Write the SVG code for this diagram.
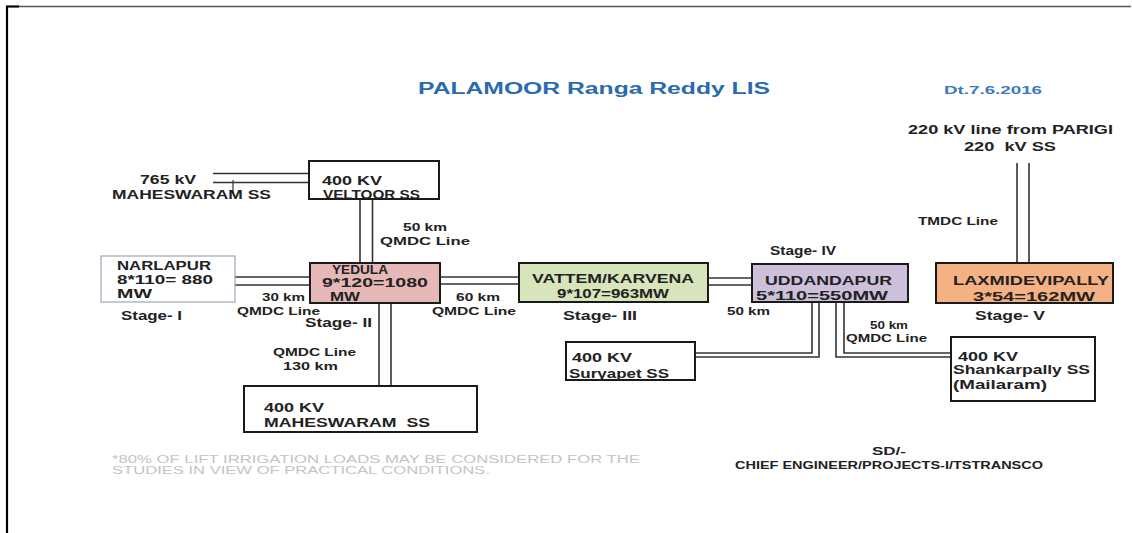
<svg xmlns="http://www.w3.org/2000/svg" width="1132" height="533" viewBox="0 0 1132 533" xml:space="preserve">
<style>
text{font-family:"Liberation Sans",Arial,sans-serif;font-weight:bold;fill:#222;white-space:pre}
.n{font-size:12px}
.s{font-size:10px}
.t{font-size:16px;fill:#2a6aae}
.d{font-size:11px;fill:#3a7bbf}
.f{font-size:10px;fill:#c4c4c4;font-weight:normal}
.box{stroke:#1a1a1a;stroke-width:2}
.ln{stroke:#333;stroke-width:1.6;fill:none}
</style>
<rect width="1132" height="533" fill="#fff"/>
<g id="frame">
<line x1="7" y1="6.5" x2="1131" y2="6.5" stroke="#555" stroke-width="1.5"/>
<line x1="7" y1="6" x2="7" y2="533" stroke="#000" stroke-width="2.2"/>
<line x1="6" y1="6.5" x2="19" y2="6.5" stroke="#000" stroke-width="2"/>
</g>
<g id="title">
<text class="t" x="418" y="94" textLength="352" lengthAdjust="spacingAndGlyphs">PALAMOOR Ranga Reddy LIS</text>
<text class="d" x="944" y="94" textLength="98" lengthAdjust="spacingAndGlyphs">Dt.7.6.2016</text>
</g>
<g id="connectors">
<polyline class="ln" points="213,173.5 309,173.5"/>
<polyline class="ln" points="213,182.5 309,182.5"/>
<polyline class="ln" points="360,199 360,263"/>
<polyline class="ln" points="372.5,199 372.5,263"/>
<polyline class="ln" points="235,277 310,277"/>
<polyline class="ln" points="235,285 310,285"/>
<polyline class="ln" points="440,277 519,277"/>
<polyline class="ln" points="440,284 519,284" stroke="#888"/>
<polyline class="ln" points="379,303 379,386"/>
<polyline class="ln" points="391,303 391,386"/>
<polyline class="ln" points="708,278 752,278"/>
<polyline class="ln" points="708,285 752,285" stroke="#888"/>
<polyline class="ln" points="812,302 812,353 695,353"/>
<polyline class="ln" points="819,302 819,357 695,357"/>
<polyline class="ln" points="836,302 836,357 951,357"/>
<polyline class="ln" points="844,302 844,353 951,353"/>
<polyline class="ln" points="1017,163 1017,263"/>
<polyline class="ln" points="1029,163 1029,263"/>
<line x1="233" y1="180" x2="233" y2="194" stroke="#333" stroke-width="1.2"/>
</g>
<g id="src765">
<text class="n" x="140" y="184" textLength="56" lengthAdjust="spacingAndGlyphs">765 kV</text>
<text class="n" x="112" y="199" textLength="159" lengthAdjust="spacingAndGlyphs">MAHESWARAM SS</text>
</g>
<g id="veltoor">
<rect class="box" x="309" y="161" width="130" height="38" fill="#fff"/>
<text class="n" x="322" y="185" textLength="60" lengthAdjust="spacingAndGlyphs">400 KV</text>
<text class="n" x="323" y="199" textLength="97" lengthAdjust="spacingAndGlyphs">VELTOOR SS</text>
</g>
<g id="narlapur">
<rect x="101" y="256" width="134" height="46" fill="#fff" stroke="#9aa8b8" stroke-width="1.2"/>
<text class="n" x="117" y="270" textLength="94" lengthAdjust="spacingAndGlyphs">NARLAPUR</text>
<text class="n" x="117" y="284" textLength="96" lengthAdjust="spacingAndGlyphs">8*110= 880</text>
<text class="n" x="117" y="298" textLength="35" lengthAdjust="spacingAndGlyphs">MW</text>
<text class="n" x="121" y="320" textLength="61" lengthAdjust="spacingAndGlyphs">Stage- I</text>
</g>
<g id="yedula">
<rect class="box" x="310" y="263" width="130" height="40" fill="#e6b9b8"/>
<text class="n" x="332" y="274" textLength="56" lengthAdjust="spacingAndGlyphs">YEDULA</text>
<text class="n" x="322" y="287" textLength="106" lengthAdjust="spacingAndGlyphs">9*120=1080</text>
<text class="n" x="330" y="301" textLength="30" lengthAdjust="spacingAndGlyphs">MW</text>
<text class="n" x="305" y="327" textLength="67" lengthAdjust="spacingAndGlyphs">Stage- II</text>
</g>
<g id="labels">
<text class="s" x="403" y="231" textLength="44" lengthAdjust="spacingAndGlyphs">50 km</text>
<text class="s" x="380" y="245" textLength="90" lengthAdjust="spacingAndGlyphs">QMDC Line</text>
<text class="s" x="262" y="301" textLength="43" lengthAdjust="spacingAndGlyphs">30 km</text>
<text class="s" x="237" y="315" textLength="83" lengthAdjust="spacingAndGlyphs">QMDC Line</text>
<text class="s" x="456" y="301" textLength="44" lengthAdjust="spacingAndGlyphs">60 km</text>
<text class="s" x="432" y="315" textLength="84" lengthAdjust="spacingAndGlyphs">QMDC Line</text>
<text class="s" x="273" y="356" textLength="83" lengthAdjust="spacingAndGlyphs">QMDC Line</text>
<text class="s" x="283" y="370" textLength="55" lengthAdjust="spacingAndGlyphs">130 km</text>
<text class="s" x="727" y="315" textLength="43" lengthAdjust="spacingAndGlyphs">50 km</text>
<text class="s" x="870" y="329" textLength="38" lengthAdjust="spacingAndGlyphs">50 km</text>
<text class="s" x="846" y="342" textLength="81" lengthAdjust="spacingAndGlyphs">QMDC Line</text>
<text class="s" x="918" y="225" textLength="80" lengthAdjust="spacingAndGlyphs">TMDC Line</text>
</g>
<g id="maheswaram">
<rect class="box" x="244" y="386" width="233" height="46" fill="#fff"/>
<text class="n" x="264" y="412" textLength="60" lengthAdjust="spacingAndGlyphs">400 KV</text>
<text class="n" x="264" y="427" textLength="166" lengthAdjust="spacingAndGlyphs">MAHESWARAM  SS</text>
</g>
<g id="vattem">
<rect class="box" x="519" y="263" width="189" height="39" fill="#d8e4bc"/>
<text class="n" x="613" y="283" text-anchor="middle" textLength="162" lengthAdjust="spacingAndGlyphs">VATTEM/KARVENA</text>
<text class="n" x="613" y="298" text-anchor="middle" textLength="112" lengthAdjust="spacingAndGlyphs">9*107=963MW</text>
<text class="n" x="563" y="320" textLength="74" lengthAdjust="spacingAndGlyphs">Stage- III</text>
</g>
<g id="uddandapur">
<rect class="box" x="752" y="264" width="156" height="38" fill="#ccc0da"/>
<text class="n" x="765" y="285" textLength="127" lengthAdjust="spacingAndGlyphs">UDDANDAPUR</text>
<text class="n" x="756" y="300" textLength="132" lengthAdjust="spacingAndGlyphs">5*110=550MW</text>
<text class="n" x="770" y="255" textLength="66" lengthAdjust="spacingAndGlyphs">Stage- IV</text>
</g>
<g id="suryapet">
<rect class="box" x="566" y="342" width="129" height="38" fill="#fff"/>
<text class="n" x="572" y="362" textLength="60" lengthAdjust="spacingAndGlyphs">400 KV</text>
<text class="n" x="569" y="378" textLength="100" lengthAdjust="spacingAndGlyphs">Suryapet SS</text>
</g>
<g id="shankarpally">
<rect class="box" x="951" y="337" width="144" height="64" fill="#fff"/>
<text class="n" x="958" y="361" textLength="60" lengthAdjust="spacingAndGlyphs">400 KV</text>
<text class="n" x="953" y="374" textLength="137" lengthAdjust="spacingAndGlyphs">Shankarpally SS</text>
<text class="n" x="953" y="389" textLength="94" lengthAdjust="spacingAndGlyphs">(Mailaram)</text>
</g>
<g id="laxmidevipally">
<rect class="box" x="936" y="263" width="177" height="40" fill="#f4b183"/>
<text class="n" x="953" y="285" textLength="156" lengthAdjust="spacingAndGlyphs">LAXMIDEVIPALLY</text>
<text class="n" x="973" y="301" textLength="122" lengthAdjust="spacingAndGlyphs">3*54=162MW</text>
<text class="n" x="975" y="320" textLength="70" lengthAdjust="spacingAndGlyphs">Stage- V</text>
</g>
<g id="parigi">
<text class="n" x="908" y="134" textLength="205" lengthAdjust="spacingAndGlyphs">220 kV line from PARIGI</text>
<text class="n" x="1010" y="151" text-anchor="middle" textLength="92" lengthAdjust="spacingAndGlyphs">220  kV SS</text>
</g>
<g id="footer">
<text class="f" x="112" y="463" textLength="528" lengthAdjust="spacingAndGlyphs">*80% OF LIFT IRRIGATION LOADS MAY BE CONSIDERED FOR THE</text>
<text class="f" x="112" y="474" textLength="378" lengthAdjust="spacingAndGlyphs">STUDIES IN VIEW OF PRACTICAL CONDITIONS.</text>
<text class="s" x="872" y="455" textLength="34" lengthAdjust="spacingAndGlyphs">SD/-</text>
<text class="s" x="735" y="469" textLength="308" lengthAdjust="spacingAndGlyphs">CHIEF ENGINEER/PROJECTS-I/TSTRANSCO</text>
</g>
</svg>
